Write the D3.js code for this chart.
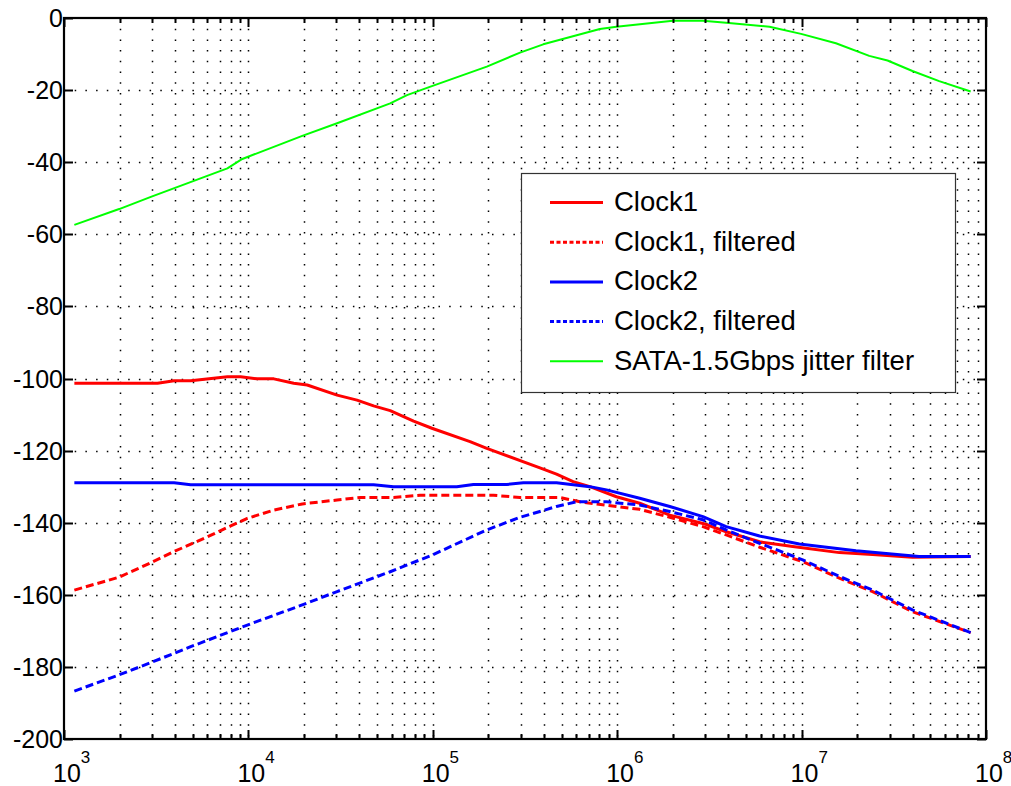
<!DOCTYPE html>
<html>
<head>
<meta charset="utf-8">
<script src="https://cdn.jsdelivr.net/npm/d3@7"></script>
<style>
  body { margin: 0; background: #fff; }
  svg { display: block; font-family: 'Liberation Sans', Arial, Helvetica, sans-serif; }
  .grid line { stroke: #000; stroke-width: 1.5; stroke-dasharray: 1.5 9.2; }
  .tick-label { font-size: 25px; fill: #000; }
  .legend-text { font-size: 27.5px; fill: #000; }
</style>
</head>
<body>
<svg width="1011" height="786"></svg>
<script>
// Clock1
var c1Freq = [1138, 3214, 3954, 4864, 7691, 9078, 11170, 13740, 17620, 20840, 30270, 38820, 47750, 58750, 78700, 98850, 159200, 196300, 381100, 468800, 576800, 711200, 990800, 1.324e6, 1.928e6, 2.917e6, 3.899e6, 5.916e6, 8.954e6, 1.603e7, 2.427e7, 3.99e7, 8.26e7];
var c1Val = [-101.3, -101.3, -100.6, -100.6, -99.5, -99.5, -100.1, -100.1, -101.3, -101.8, -104.6, -106.0, -107.6, -108.9, -111.8, -113.8, -117.5, -119.4, -124.8, -126.5, -128.6, -130.0, -132.8, -134.6, -137.9, -140.2, -142.5, -145.3, -146.6, -148.3, -148.8, -149.6, -149.4];

// Clock1, filtered
var c1fFreq = [1138, 1991, 2958, 3954, 5998, 8017, 9863, 13740, 19590, 30270, 40460, 61240, 85500, 213300, 297200, 488700, 628100, 990800, 1.324e6, 1.928e6, 2.917e6, 3.899e6, 5.916e6, 1.014e7, 1.603e7, 2.427e7, 3.99e7, 8.26e7];
var c1fVal = [-158.7, -155.1, -151.1, -148.0, -143.9, -140.9, -138.8, -136.5, -134.8, -133.7, -133.0, -133.0, -132.4, -132.4, -133.0, -133.0, -134.2, -135.5, -136.3, -138.5, -141.1, -143.4, -146.8, -150.8, -155.4, -159.1, -164.7, -170.5];

// Clock2
var c2Freq = [1138, 3954, 4864, 47750, 61240, 134900, 166000, 251800, 309700, 468800, 711200, 875000, 1.324e6, 1.928e6, 2.917e6, 3.899e6, 5.916e6, 9.727e6, 1.972e7, 4.335e7, 8.26e7];
var c2Val = [-128.9, -128.9, -129.5, -129.5, -130.0, -130.0, -129.4, -129.4, -128.9, -128.9, -130.0, -130.9, -133.2, -135.5, -138.3, -141.1, -143.7, -145.9, -147.8, -149.4, -149.4];

// Clock2, filtered
var c2fFreq = [1138, 1991, 2958, 4864, 9863, 19590, 30270, 58750, 98850, 196300, 297200, 381100, 468800, 601200, 875000, 1.324e6, 1.928e6, 2.917e6, 3.899e6, 5.916e6, 1.014e7, 1.603e7, 2.427e7, 3.99e7, 8.26e7];
var c2fVal = [-186.7, -182.2, -178.8, -174.4, -168.4, -162.8, -159.1, -153.6, -149.0, -142.0, -138.5, -136.9, -135.5, -134.2, -134.2, -135.1, -136.9, -139.2, -142.0, -145.7, -150.3, -154.9, -158.7, -164.2, -170.5];

// SATA-1.5Gbps jitter filter
var sataFreq = [1138, 1991, 2958, 7691, 9268, 19590, 30270, 58750, 72440, 98850, 196300, 297200, 397200, 805400, 990800, 2.004e6, 2.917e6, 3.899e6, 6.699e6, 9.931e6, 1.535e7, 2.328e7, 2.924e7, 3.99e7, 5.572e7, 8.26e7];
var sataVal = [-57.4, -53.0, -49.6, -41.7, -39.1, -32.7, -29.2, -23.7, -21.4, -18.9, -13.5, -9.6, -7.3, -3.05, -2.4, -0.75, -0.75, -1.3, -2.4, -4.4, -7.0, -10.5, -11.8, -14.7, -17.5, -20.4];

var legendLabels = ['Clock1', 'Clock1, filtered', 'Clock2', 'Clock2, filtered', 'SATA-1.5Gbps jitter filter'];
var xExponents = [3, 4, 5, 6, 7, 8];
var yTicks = [0, -20, -40, -60, -80, -100, -120, -140, -160, -180, -200];

var plot = { left: 64, right: 986, top: 18, bottom: 739 };

var svg = d3.select('svg');

var xScale = d3.scaleLog()
  .domain([1e3, 1e8])
  .range([plot.left, plot.right]);

var yScale = d3.scaleLinear()
  .domain([-200, 0])
  .range([plot.bottom, plot.top]);

svg.append('rect').attr('width', 1011).attr('height', 786).attr('fill', '#fff');

// minor + major decade values for the x grid
var xGridVals = [];
for (var e = 3; e < 8; e++) {
  for (var m = 1; m < 10; m++) {
    if (m > 1 || e > 3) xGridVals.push(m * Math.pow(10, e));
  }
}

var grid = svg.append('g').attr('class', 'grid');

grid.selectAll('.vgrid')
  .data(xGridVals)
  .enter()
  .append('line')
  .attr('x1', (d) => Math.round(xScale(d)) + 0.5)
  .attr('x2', (d) => Math.round(xScale(d)) + 0.5)
  .attr('y1', plot.top)
  .attr('y2', plot.bottom);

grid.selectAll('.hgrid')
  .data(yTicks.slice(1, -1))
  .enter()
  .append('line')
  .attr('y1', (d) => Math.round(yScale(d)) + 0.5)
  .attr('y2', (d) => Math.round(yScale(d)) + 0.5)
  .attr('x1', plot.left)
  .attr('x2', plot.right);

// curves
var series = [
  { f: c1Freq, v: c1Val, color: '#ff0000', width: 3, dash: null },
  { f: c1fFreq, v: c1fVal, color: '#ff0000', width: 3, dash: '8 4' },
  { f: c2Freq, v: c2Val, color: '#0000ff', width: 3, dash: null },
  { f: c2fFreq, v: c2fVal, color: '#0000ff', width: 3, dash: '8 4' },
  { f: sataFreq, v: sataVal, color: '#00ff00', width: 2, dash: null }
];

var line = d3.line()
  .x((d) => xScale(d[0]))
  .y((d) => yScale(d[1]));

series.forEach(function(s) {
  svg.append('path')
    .datum(d3.zip(s.f, s.v))
    .attr('d', line)
    .attr('fill', 'none')
    .attr('stroke', s.color)
    .attr('stroke-width', s.width)
    .attr('stroke-linejoin', 'round')
    .attr('stroke-dasharray', s.dash);
});

// axes: boxed, ticks inside on all sides
var axisG = svg.append('g');

var majorLen = 9, minorLen = 5;

xGridVals.concat([1e3, 1e8]).forEach(function(d) {
  var isMajor = Math.abs(Math.log10(d) - Math.round(Math.log10(d))) < 1e-9;
  var len = isMajor ? majorLen : minorLen;
  var x = Math.round(xScale(d)) + 0.5;
  axisG.append('line').attr('x1', x).attr('x2', x).attr('y1', plot.bottom).attr('y2', plot.bottom - len)
    .attr('stroke', '#000').attr('stroke-width', 2);
  axisG.append('line').attr('x1', x).attr('x2', x).attr('y1', plot.top).attr('y2', plot.top + len)
    .attr('stroke', '#000').attr('stroke-width', 2);
});

yTicks.forEach(function(d) {
  var y = Math.round(yScale(d)) + 0.5;
  axisG.append('line').attr('x1', plot.left).attr('x2', plot.left + majorLen).attr('y1', y).attr('y2', y)
    .attr('stroke', '#000').attr('stroke-width', 2);
  axisG.append('line').attr('x1', plot.right).attr('x2', plot.right - majorLen).attr('y1', y).attr('y2', y)
    .attr('stroke', '#000').attr('stroke-width', 2);
});

axisG.append('rect')
  .attr('x', plot.left)
  .attr('y', plot.top)
  .attr('width', plot.right - plot.left)
  .attr('height', plot.bottom - plot.top)
  .attr('fill', 'none')
  .attr('stroke', '#000')
  .attr('stroke-width', 2.2);

// y tick labels
svg.selectAll('.ylab')
  .data(yTicks)
  .enter()
  .append('text')
  .attr('class', 'tick-label')
  .attr('text-anchor', 'end')
  .attr('x', plot.left - 1)
  .attr('y', (d) => yScale(d) + 9)
  .text((d) => d);

// x tick labels 10^n
xExponents.forEach(function(e) {
  var t = svg.append('text')
    .attr('class', 'tick-label')
    .attr('x', xScale(Math.pow(10, e)) - 11)
    .attr('y', 782);
  t.append('tspan').text('10');
  t.append('tspan').attr('dy', -19).style('font-size', '17px').text(e);
});

// legend
var legend = svg.append('g');
legend.append('rect')
  .attr('x', 521.5)
  .attr('y', 173.5)
  .attr('width', 434)
  .attr('height', 219)
  .attr('fill', '#fff')
  .attr('stroke', '#333')
  .attr('stroke-width', 1.2);

legendLabels.forEach(function(label, i) {
  var s = series[i];
  var base = 211 + i * 39.7;
  legend.append('line')
    .attr('x1', 550)
    .attr('x2', 603)
    .attr('y1', base - 8.5)
    .attr('y2', base - 8.5)
    .attr('stroke', s.color)
    .attr('stroke-width', s.width)
    .attr('stroke-dasharray', s.dash ? '4 2.5' : null);
  legend.append('text')
    .attr('class', 'legend-text')
    .attr('x', 614)
    .attr('y', base)
    .text(label);
});
</script>
</body>
</html>
